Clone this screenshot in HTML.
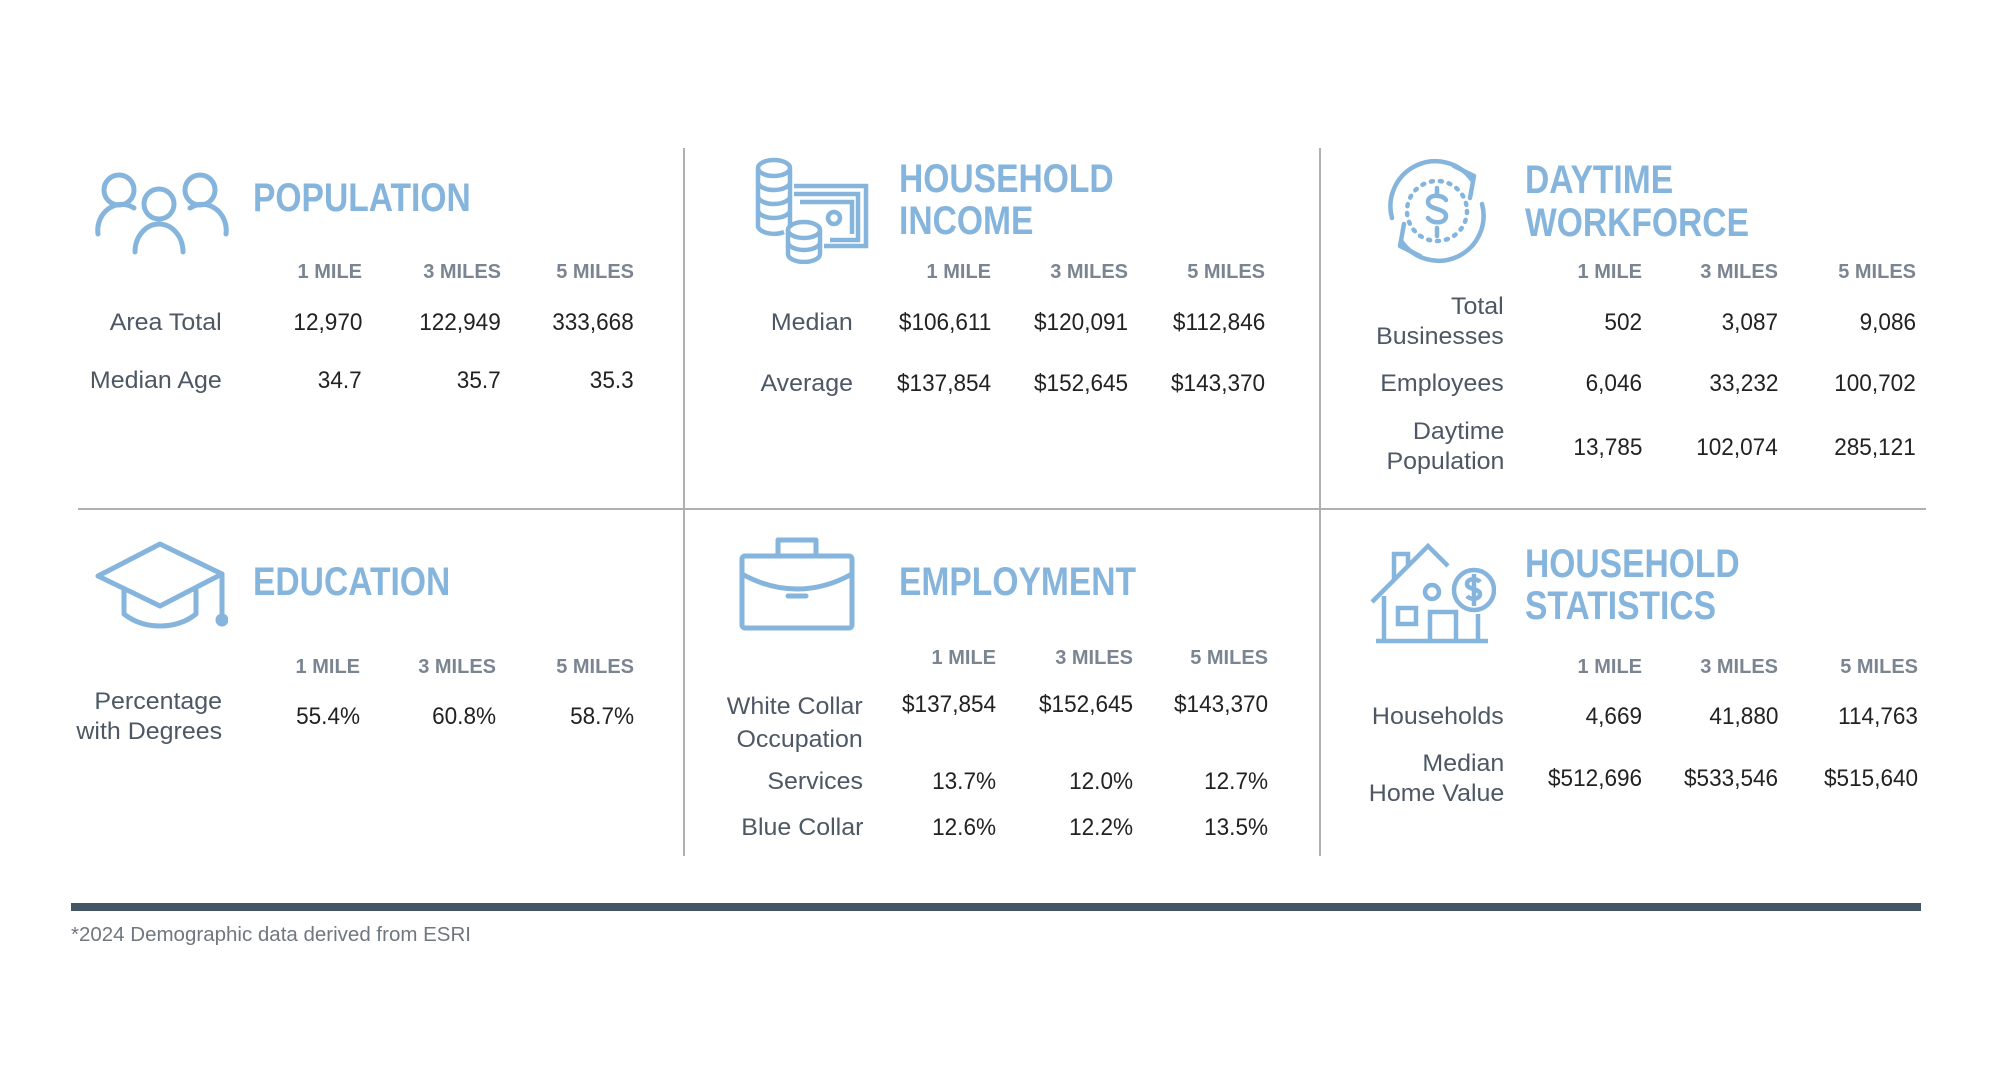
<!DOCTYPE html>
<html><head><meta charset="utf-8"><style>
html,body{margin:0;padding:0;background:#fff;}
body{width:2000px;height:1080px;position:relative;overflow:hidden;font-family:"Liberation Sans",sans-serif;}
.a{position:absolute;white-space:nowrap;}
.t{font-weight:bold;color:#85b4dc;font-size:40px;line-height:42px;transform:scaleX(0.84);transform-origin:left center;}
.h{font-weight:bold;color:#7b8591;font-size:20px;line-height:20px;transform:scaleX(1.0);transform-origin:right center;text-align:right;}
.v{color:#222;font-size:24px;line-height:26px;transform:scaleX(0.94);transform-origin:right center;text-align:right;}
.l{color:#4d5864;font-size:24px;line-height:30px;transform:scaleX(1.04);transform-origin:right center;text-align:right;}
svg{position:absolute;}
</style></head><body>
<div class="a" style="left:78px;top:508px;width:1848px;height:2px;background:#b0b0b0"></div>
<div class="a" style="left:683px;top:148px;width:2px;height:708px;background:#b0b0b0"></div>
<div class="a" style="left:1319px;top:148px;width:2px;height:708px;background:#b0b0b0"></div>
<div class="a" style="left:71px;top:903px;width:1850px;height:8px;background:#435665"></div>
<div class="a" style="left:71px;top:924px;font-size:20.5px;color:#6f7780;line-height:22px">*2024 Demographic data derived from ESRI</div>

<svg style="left:92px;top:168px" width="140" height="90" viewBox="0 0 140 90" fill="none" stroke="#85b4dc" stroke-width="5" stroke-linecap="round">
<circle cx="27" cy="22" r="15"/><circle cx="108" cy="22" r="15"/><circle cx="67" cy="36" r="15"/>
<path d="M6 66 A24 26 0 0 1 42 40"/><path d="M134 66 A24 26 0 0 0 98 40"/><path d="M43 84 A24 28 0 0 1 91 84"/>
</svg>
<svg style="left:754px;top:156px" width="116" height="108" viewBox="0 0 116 108" fill="none" stroke="#85b4dc" stroke-width="4.5">
<ellipse cx="20" cy="12" rx="16" ry="8"/><path d="M4 12v60M36 12v60M4 26a16 8 0 0 0 32 0M4 40a16 8 0 0 0 32 0M4 54a16 8 0 0 0 32 0M4 70a16 8 0 0 0 26 6"/>
<path d="M40 30h72v60H70M40 38h64v46H76M46 46h52v32"/>
<circle cx="80" cy="62" r="6"/>
<ellipse cx="50" cy="74" rx="16" ry="8"/><path d="M34 74v24a16 8 0 0 0 32 0V74M34 86a16 8 0 0 0 32 0"/>
</svg>
<svg style="left:1384px;top:158px" width="106" height="106" viewBox="0 0 106 106" fill="none" stroke="#85b4dc" stroke-width="4.5" stroke-linecap="round" stroke-linejoin="round">
<path d="M8 60 A45 45 0 0 1 88 22"/><path d="M70 8l20 10-4 22"/>
<path d="M98 46 A45 45 0 0 1 18 84"/><path d="M36 98l-20-10 4-22"/>
<circle cx="53" cy="53" r="30" stroke-dasharray="2 7"/>
<path d="M62 42c-4-6-18-6-18 2s18 6 18 14-14 8-18 2M53 30v8M53 70v8"/>
</svg>
<svg style="left:94px;top:540px" width="134" height="94" viewBox="0 0 134 94" fill="none" stroke="#85b4dc" stroke-width="5" stroke-linejoin="round" stroke-linecap="round">
<path d="M4 36 L66 4 L128 34 L66 66 Z"/><path d="M30 50v24c20 16 52 16 72 0V50"/><path d="M128 34v40"/><circle cx="128" cy="80" r="4" fill="#85b4dc"/>
</svg>
<svg style="left:738px;top:534px" width="120" height="100" viewBox="0 0 120 100" fill="none" stroke="#85b4dc" stroke-width="5" stroke-linejoin="round" stroke-linecap="round">
<rect x="4" y="22" width="110" height="72" rx="3"/><path d="M40 22V6h38v16"/><path d="M4 40c36 20 74 20 110 0"/><path d="M50 62h18"/>
</svg>
<svg style="left:1368px;top:540px" width="128" height="106" viewBox="0 0 128 106" fill="none" stroke="#85b4dc" stroke-width="4.5">
<path d="M4 62 L60 6 L80 26"/><path d="M26 40V14h14v12"/><circle cx="64" cy="52" r="7"/>
<circle cx="106" cy="50" r="20"/><path d="M112 42c-3-4-13-4-13 2s13 4 13 10-10 6-13 2M106 34v32"/>
<path d="M16 56v45M110 74v27M8 101h112"/><rect x="30" y="68" width="18" height="16"/><path d="M62 101V72h26v29"/>
</svg>

<div class="a t" style="left:253px;top:177px">POPULATION</div>
<div class="a t" style="left:899px;top:158px">HOUSEHOLD</div>
<div class="a t" style="left:899px;top:200px">INCOME</div>
<div class="a t" style="left:1525px;top:159px">DAYTIME</div>
<div class="a t" style="left:1525px;top:202px">WORKFORCE</div>
<div class="a t" style="left:253px;top:561px">EDUCATION</div>
<div class="a t" style="left:899px;top:561px">EMPLOYMENT</div>
<div class="a t" style="left:1525px;top:543px">HOUSEHOLD</div>
<div class="a t" style="left:1525px;top:585px">STATISTICS</div>

<div class="a h" style="right:1638px;top:262px">1 MILE</div>
<div class="a h" style="right:1499px;top:262px">3 MILES</div>
<div class="a h" style="right:1366px;top:262px">5 MILES</div>
<div class="a l" style="right:1778px;top:308px">Area Total</div>
<div class="a v" style="right:1638px;top:310px">12,970</div>
<div class="a v" style="right:1499px;top:310px">122,949</div>
<div class="a v" style="right:1366px;top:310px">333,668</div>
<div class="a l" style="right:1778px;top:366px">Median Age</div>
<div class="a v" style="right:1638px;top:368px">34.7</div>
<div class="a v" style="right:1499px;top:368px">35.7</div>
<div class="a v" style="right:1366px;top:368px">35.3</div>

<div class="a h" style="right:1009px;top:262px">1 MILE</div>
<div class="a h" style="right:872px;top:262px">3 MILES</div>
<div class="a h" style="right:735px;top:262px">5 MILES</div>
<div class="a l" style="right:1147px;top:308px">Median</div>
<div class="a v" style="right:1009px;top:310px">$106,611</div>
<div class="a v" style="right:872px;top:310px">$120,091</div>
<div class="a v" style="right:735px;top:310px">$112,846</div>
<div class="a l" style="right:1147px;top:369px">Average</div>
<div class="a v" style="right:1009px;top:371px">$137,854</div>
<div class="a v" style="right:872px;top:371px">$152,645</div>
<div class="a v" style="right:735px;top:371px">$143,370</div>

<div class="a h" style="right:358px;top:262px">1 MILE</div>
<div class="a h" style="right:222px;top:262px">3 MILES</div>
<div class="a h" style="right:84px;top:262px">5 MILES</div>
<div class="a l" style="right:496px;top:292px">Total<br>Businesses</div>
<div class="a v" style="right:358px;top:310px">502</div>
<div class="a v" style="right:222px;top:310px">3,087</div>
<div class="a v" style="right:84px;top:310px">9,086</div>
<div class="a l" style="right:496px;top:369px">Employees</div>
<div class="a v" style="right:358px;top:371px">6,046</div>
<div class="a v" style="right:222px;top:371px">33,232</div>
<div class="a v" style="right:84px;top:371px">100,702</div>
<div class="a l" style="right:496px;top:417px">Daytime<br>Population</div>
<div class="a v" style="right:358px;top:435px">13,785</div>
<div class="a v" style="right:222px;top:435px">102,074</div>
<div class="a v" style="right:84px;top:435px">285,121</div>

<div class="a h" style="right:1640px;top:657px">1 MILE</div>
<div class="a h" style="right:1504px;top:657px">3 MILES</div>
<div class="a h" style="right:1366px;top:657px">5 MILES</div>
<div class="a l" style="right:1778px;top:687px">Percentage<br>with Degrees</div>
<div class="a v" style="right:1640px;top:704px">55.4%</div>
<div class="a v" style="right:1504px;top:704px">60.8%</div>
<div class="a v" style="right:1366px;top:704px">58.7%</div>

<div class="a h" style="right:1004px;top:648px">1 MILE</div>
<div class="a h" style="right:867px;top:648px">3 MILES</div>
<div class="a h" style="right:732px;top:648px">5 MILES</div>
<div class="a l" style="right:1137px;top:690px;line-height:33px">White Collar<br>Occupation</div>
<div class="a v" style="right:1004px;top:692px">$137,854</div>
<div class="a v" style="right:867px;top:692px">$152,645</div>
<div class="a v" style="right:732px;top:692px">$143,370</div>
<div class="a l" style="right:1137px;top:767px">Services</div>
<div class="a v" style="right:1004px;top:769px">13.7%</div>
<div class="a v" style="right:867px;top:769px">12.0%</div>
<div class="a v" style="right:732px;top:769px">12.7%</div>
<div class="a l" style="right:1137px;top:813px">Blue Collar</div>
<div class="a v" style="right:1004px;top:815px">12.6%</div>
<div class="a v" style="right:867px;top:815px">12.2%</div>
<div class="a v" style="right:732px;top:815px">13.5%</div>

<div class="a h" style="right:358px;top:657px">1 MILE</div>
<div class="a h" style="right:222px;top:657px">3 MILES</div>
<div class="a h" style="right:82px;top:657px">5 MILES</div>
<div class="a l" style="right:496px;top:702px">Households</div>
<div class="a v" style="right:358px;top:704px">4,669</div>
<div class="a v" style="right:222px;top:704px">41,880</div>
<div class="a v" style="right:82px;top:704px">114,763</div>
<div class="a l" style="right:496px;top:749px">Median<br>Home Value</div>
<div class="a v" style="right:358px;top:766px">$512,696</div>
<div class="a v" style="right:222px;top:766px">$533,546</div>
<div class="a v" style="right:82px;top:766px">$515,640</div>
</body></html>
